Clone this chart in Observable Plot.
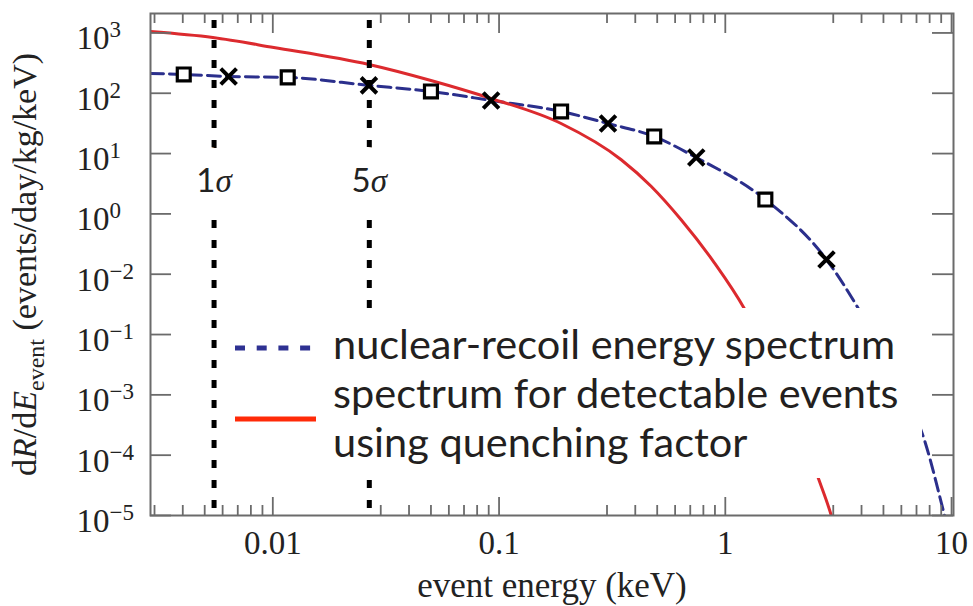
<!DOCTYPE html>
<html>
<head>
<meta charset="utf-8">
<script src="https://cdn.jsdelivr.net/npm/d3@7"></script>
<script src="https://cdn.jsdelivr.net/npm/@observablehq/plot@0.6"></script>
<style>
  body { margin: 0; background: #fff; }
  #chart { position: relative; width: 973px; height: 606px; }
  #legend { position: absolute; left: 228px; top: 308px; }
</style>
</head>
<body>
<div id="chart"></div>
<script>
// Nuclear-recoil energy spectrum, sampled along the dashed curve (keV, events/day/kg/keV)
const recoilEnergy = [0.00288, 0.00404, 0.00638, 0.01164, 0.0266, 0.0500, 0.0922, 0.188, 0.303, 0.485, 0.744, 1.503, 2.80, 3.87, 5.43, 7.60, 9.31, 9.8];
const recoilRate   = [213, 205, 190, 183, 135, 107, 76, 49.9, 31.5, 19.2, 8.6, 1.73, 0.175, 0.027, 2.53e-3, 1.75e-4, 1e-5, 4.7e-6];

// Markers placed on the recoil spectrum
const squareEnergy = [0.00404, 0.01164, 0.0500, 0.188, 0.485, 1.503];
const squareRate   = [205, 183, 107, 49.9, 19.2, 1.73];
const crossEnergy  = [0.00638, 0.0266, 0.0922, 0.303, 0.744, 2.80];
const crossRate    = [190, 135, 76, 31.5, 8.6, 0.175];

// Spectrum of detectable events after applying the quenching factor
const quenchedEnergy = [0.00288, 0.00543, 0.0101, 0.0266, 0.050, 0.0922, 0.188, 0.3467, 0.471, 0.638, 0.893, 1.213, 1.77, 2.58, 2.94, 3.07];
const quenchedRate   = [1057, 841, 574, 300, 163, 82, 31.5, 7.9, 2.85, 0.80, 0.156, 0.0270, 0.00143, 4.09e-5, 1e-5, 5.6e-6];

// Detection thresholds
const sigmaEnergy = [0.0055, 0.0267];
const sigmaLabels = ["1σ", "5σ"];

// Axis ticks
const xTickValues = [0.01, 0.1, 1, 10];
const xTickLabels = ["0.01", "0.1", "1", "10"];
const xMinorValues = [3, 4, 5, 6, 7, 8, 9].flatMap(m => [1e-3, 1e-2, 1e-1, 1].map(p => m * p)).filter(v => v > 0.00288 && v < 10);
const yTickValues = [1e3, 1e2, 1e1, 1e0, 1e-1, 1e-2, 1e-3, 1e-4, 1e-5];
const yTickExponents = ["3", "2", "1", "0", "−2", "−1", "−3", "−4", "−5"];

// Legend entries
const legendLabels = [["nuclear-recoil energy spectrum"], ["spectrum for detectable events", "using quenching factor"]];
const legendColors = ["#2e3192", "#ff2a08"];
const legendDashes = ["10,11.7", null];

const blue = "#2b2f8c";
const red = "#dc2a2e";
const frameGray = "#6b6b6b";
const serif = "'Liberation Serif', 'Times New Roman', serif";
const sans = "Lato, 'Open Sans', sans-serif";

const recoil = recoilEnergy.map((x, i) => ({x, y: recoilRate[i]}));
const quenched = quenchedEnergy.map((x, i) => ({x, y: quenchedRate[i]}));
const squares = squareEnergy.map((x, i) => ({x, y: squareRate[i]}));
const crosses = crossEnergy.map((x, i) => ({x, y: crossRate[i]}));
const sigmas = sigmaEnergy.map((x, i) => ({x, label: sigmaLabels[i]}));

const frameW = 973 - 150 - 20;
const frameH = 606 - 13 - 91;

const sigmaText = {x: "x", text: "label", frameAnchor: "top", lineAnchor: "middle", dy: 168, fontSize: 33, fontFamily: sans};

const chart = Plot.plot({
  width: 973,
  height: 606,
  marginLeft: 150,
  marginRight: 20,
  marginTop: 13,
  marginBottom: 91,
  x: {type: "log", domain: [0.00288, 10.2], axis: null},
  y: {type: "log", domain: [1e-5, 2100], axis: null},
  style: {background: "white", overflow: "visible"},
  marks: [
    Plot.line(recoil, {x: "x", y: "y", stroke: blue, strokeWidth: 3, strokeDasharray: "13,6", curve: "monotone-x", clip: true}),
    Plot.line(quenched, {x: "x", y: "y", stroke: red, strokeWidth: 3, curve: "monotone-x", clip: true}),
    Plot.dot(squares, {x: "x", y: "y", symbol: "square", r: 7.3, fill: "white", stroke: "black", strokeWidth: 3.2}),
    Plot.dot(crosses, {x: "x", y: "y", symbol: "times", r: 7.2, stroke: "black", strokeWidth: 4}),
    // inward ticks: bottom and top of the frame
    Plot.ruleX(xTickValues, {x: d => d, stroke: frameGray, strokeWidth: 1.8, insetTop: frameH - 18}),
    Plot.ruleX(xMinorValues, {x: d => d, stroke: frameGray, strokeWidth: 1.8, insetTop: frameH - 10}),
    Plot.ruleX(xTickValues, {x: d => d, stroke: frameGray, strokeWidth: 1.8, insetBottom: frameH - 20}),
    Plot.ruleX(xMinorValues, {x: d => d, stroke: frameGray, strokeWidth: 1.8, insetBottom: frameH - 10}),
    // inward ticks: left and right of the frame
    Plot.ruleY(yTickValues, {y: d => d, stroke: frameGray, strokeWidth: 1.8, insetRight: frameW - 21}),
    Plot.ruleY(yTickValues, {y: d => d, stroke: frameGray, strokeWidth: 1.8, insetLeft: frameW - 21}),
    // threshold markers, interrupted around their labels
    Plot.ruleX(sigmas, {x: "x", stroke: "black", strokeWidth: 5, strokeDasharray: "8,12", insetTop: 7}),
    Plot.text(sigmas, {...sigmaText, fill: "white", stroke: "white", strokeWidth: 42, strokeLinejoin: "round"}),
    Plot.text(sigmas, {...sigmaText, fill: "#222"}),
    Plot.frame({stroke: frameGray, strokeWidth: 2}),
    // tick labels
    Plot.text(yTickValues, {y: d => d, text: (d, i) => "10^" + yTickExponents[i], frameAnchor: "left", lineAnchor: "middle", dx: -74, dy: 6, textAnchor: "start", fontSize: 33, fontFamily: serif, fill: "#222"}),
    Plot.text(xTickValues, {x: d => d, text: (d, i) => xTickLabels[i], frameAnchor: "bottom", lineAnchor: "middle", dy: 28.4, fontSize: 33, fontFamily: serif, fill: "#222"}),
    // axis titles
    Plot.text(["event energy (keV)"], {text: d => d, frameAnchor: "bottom", lineAnchor: "middle", dy: 70.5, textAnchor: "middle", fontSize: 35, fontFamily: serif, fill: "#222"}),
    Plot.text(["dR/dE_event (events/day/kg/keV)"], {text: d => d, frameAnchor: "left", lineAnchor: "middle", dx: -125, rotate: -90, textAnchor: "middle", fontSize: 34, fontFamily: serif, fill: "#222"})
  ]
});

// Rich text: superscript exponents, italic symbols, subscripts
d3.select(chart).selectAll("text").each(function() {
  const t = this.textContent;
  const sel = d3.select(this);
  if (t.startsWith("10^")) {
    sel.text(null);
    sel.append("tspan").text("10");
    sel.append("tspan").attr("font-size", 23).attr("dy", -12).text(t.slice(3));
  } else if (t.endsWith("σ")) {
    sel.text(null);
    sel.append("tspan").text(t.slice(0, -1));
    sel.append("tspan").attr("font-style", "italic").attr("font-family", serif).text("σ");
  } else if (t.startsWith("dR/dE_")) {
    sel.text(null);
    sel.append("tspan").text("d");
    sel.append("tspan").attr("font-style", "italic").text("R");
    sel.append("tspan").text("/d");
    sel.append("tspan").attr("font-style", "italic").text("E");
    sel.append("tspan").attr("font-size", 24).attr("dy", 8).text("event");
    sel.append("tspan").attr("dy", -8).text(" (events/day/kg/keV)");
  }
});

const container = document.getElementById("chart");
container.appendChild(chart);

// Legend drawn over the plot area
const legend = d3.select(container).append("svg")
  .attr("id", "legend")
  .attr("width", 694)
  .attr("height", 170);
legend.append("rect").attr("width", 694).attr("height", 170).attr("fill", "white");
legendLabels.forEach((lines, i) => {
  const swatchY = i === 0 ? 40 : 111;
  legend.append("line")
    .attr("x1", 7).attr("x2", i === 0 ? 85 : 88)
    .attr("y1", swatchY).attr("y2", swatchY)
    .attr("stroke", legendColors[i])
    .attr("stroke-width", 5)
    .attr("stroke-dasharray", legendDashes[i]);
});
legendLabels.flat().forEach((line, j) => {
  legend.append("text")
    .attr("x", 105)
    .attr("y", 51 + 49 * j)
    .attr("font-family", sans)
    .attr("font-size", 41.5)
    .attr("fill", "#231f20")
    .text(line);
});
</script>
</body>
</html>
